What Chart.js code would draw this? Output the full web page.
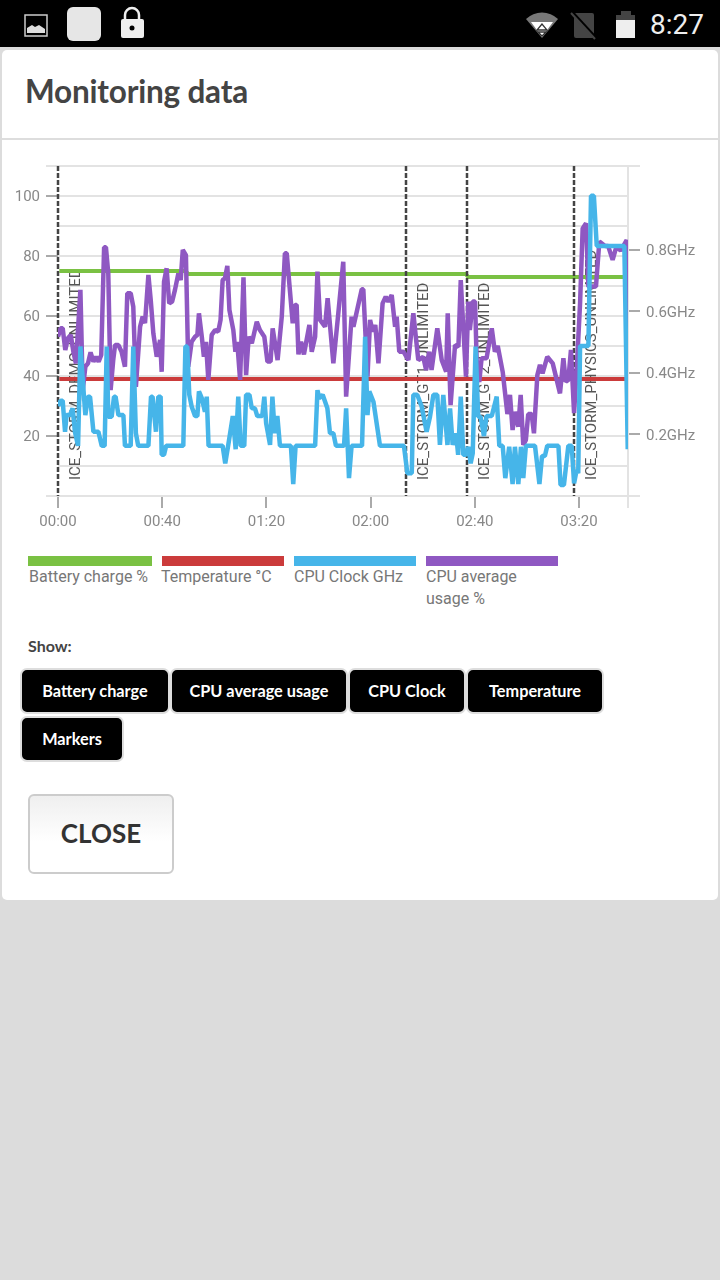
<!DOCTYPE html>
<html><head><meta charset="utf-8">
<script src="https://cdn.jsdelivr.net/npm/chart.js@4"></script>
<style>
html,body{margin:0;padding:0;width:720px;height:1280px;overflow:hidden;background:#dcdcdc}
.a{position:absolute}
#bar{left:0;top:0;width:720px;height:47px;background:#000}
#card{left:2px;top:50px;width:716px;height:850px;background:#fff;border-radius:5px}
#title{left:25px;top:72px;font:700 31.5px/38px Lato;color:#444;letter-spacing:-.2px}
#div{left:2px;top:138px;width:716px;height:2px;background:#ddd}
#clock{left:650px;top:8px;font:400 28px/34px Roboto;color:#eee}
.sw{top:556px;height:10px}
.lg{top:566px;font:400 16px/22px Roboto;color:#777}
#show{left:28px;top:636px;font:700 16px/20px Lato;color:#444}
.btn{box-sizing:border-box;background:#000;color:#fff;border:2px solid #ddd;border-radius:7px;font:700 16.3px/41px Lato;text-align:center;height:46px}
#close{left:28px;top:794px;width:146px;height:80px;box-sizing:border-box;border:2px solid #ccc;border-radius:6px;background:linear-gradient(#efefef,#fff 60%);font:700 26px/74px Lato;color:#333;text-align:center}
#wrap{left:0;top:150px;width:720px;height:390px}
</style></head><body>
<div class="a" id="bar"></div>
<svg class="a" style="left:0;top:0" width="330" height="47">
<rect x="25" y="15" width="22" height="21" fill="none" stroke="#ccc" stroke-width="1.5"/>
<path d="M27 33V28l5-3 3 2 4-2 6 4v4z" fill="#ddd"/>
<rect x="67" y="7" width="34" height="34" rx="6" fill="#e6e6e6"/>
<path d="M125 19v-4a7 7 0 0 1 14 0v4" fill="none" stroke="#eee" stroke-width="2.5"/>
<rect x="121" y="19" width="23" height="19" rx="2" fill="#eee"/>
<circle cx="132" cy="28" r="2.5" fill="#000"/>
</svg>
<svg class="a" style="left:520px;top:0" width="125" height="47">
<path d="M6 19a23 23 0 0 1 32 0L22 38z" fill="#777"/>
<path d="M11 22h22L22 37z" fill="#fff"/>
<path d="M22 24l-5 6h10z M18 32h8l-4 4z" fill="none" stroke="#333" stroke-width="1.3"/>
<rect x="54" y="13" width="20" height="25" rx="2" fill="#444"/>
<path d="M53 13l24 26" stroke="#000" stroke-width="3"/><path d="M51 13l24 26" stroke="#444" stroke-width="2"/>
<rect x="101" y="11" width="10" height="4" fill="#444"/>
<rect x="96" y="15" width="19" height="6" fill="#444"/>
<rect x="96" y="20" width="19" height="18" fill="#eee"/>
</svg>
<div class="a" id="clock">8:27</div>
<div class="a" id="card"></div>
<div class="a" id="title">Monitoring data</div>
<div class="a" id="div"></div>
<div class="a" id="wrap"><canvas id="c" width="720" height="390"></canvas></div>
<div class="a sw" style="left:28px;width:124px;background:#7ac143"></div>
<div class="a sw" style="left:162px;width:122px;background:#cb3b3b"></div>
<div class="a sw" style="left:294px;width:122px;background:#46b5e9"></div>
<div class="a sw" style="left:426px;width:132px;background:#8f58c2"></div>
<div class="a lg" style="left:29px">Battery charge %</div>
<div class="a lg" style="left:161px">Temperature °C</div>
<div class="a lg" style="left:294px">CPU Clock GHz</div>
<div class="a lg" style="left:426px;width:120px">CPU average<br>usage %</div>
<div class="a" id="show">Show:</div>
<div class="a btn" style="left:20px;top:668px;width:150px">Battery charge</div>
<div class="a btn" style="left:170px;top:668px;width:178px">CPU average usage</div>
<div class="a btn" style="left:348px;top:668px;width:118px">CPU Clock</div>
<div class="a btn" style="left:466px;top:668px;width:138px">Temperature</div>
<div class="a btn" style="left:20px;top:716px;width:104px">Markers</div>
<div class="a" id="close">CLOSE</div>
<script>
const xTickMinutes=[0,40,80,120,160,200];
const xMax=218.8;
const usageLeftTicks=[20,40,60,80,100];
const clockTicks=[0.2,0.4,0.6,0.8];
const markerMinutes=[0,133.6,157,198];
const markerNames=["ICE_STORM_DEMO_UNLIMITED","ICE_STORM_GT1_UNLIMITED","ICE_STORM_GT2_UNLIMITED","ICE_STORM_PHYSICS_UNLIMITED"];
const batteryMinutes=[0.5,49,50,156.5,157.5,218];
const batteryCharge=[75,75,74,74,73,73];
const tempMinutes=[0.5,218];
const temperature=[39,39];
const usageMinutes=[0,1,1.8,2.8,3.8,4.9,5.9,6.9,8.6,9.5,10.5,11.5,12.5,13.6,14.6,15.6,16.6,17.7,18.4,19.3,20.2,21.2,21.9,23.2,24.4,25.7,26.6,27.9,28.9,29.9,31.5,32.5,33.4,34.7,35.6,36.6,37.9,39.2,39.8,40.7,41.7,42.7,43.8,44.9,46.2,47.1,47.9,49.1,50,51.3,52.6,53.5,54.1,55.2,56,56.8,57.7,59,60.3,61.5,62.4,63.2,64.1,65,65.8,67.3,68.1,68.8,69.9,71.2,72.2,73.2,74.4,76.3,77.5,79.2,80.4,81.6,82.4,84.3,85.9,87.1,87.8,90.1,91,91.6,92.3,93.3,94.4,96.5,97.4,98.7,99.6,100.6,102.5,103.5,105.7,107.6,109.5,110.6,112.7,113.4,116.6,117.2,118.8,119.8,120.8,121.8,123,124.6,125.8,126.8,128.1,129.4,130,131,132.6,134.5,136.4,138.3,140.2,141.3,142.5,143.4,145.6,147.3,149,149.6,150.7,152.4,153.7,154.6,156.6,157.5,158.1,159.2,160.1,160.7,161.7,162.6,164.5,166.5,167.7,168.8,170.7,172.5,173.5,174.5,175.4,176.7,177.6,178.6,179.6,180.5,181.8,182.7,184,185,186,187.8,189.9,192.7,194,194.9,195.9,196.9,198.1,199.3,200.4,201.4,202.7,203.6,206.5,207.8,210,211.2,212.9,214.4,216,218.3,218.6];
const cpuUsage=[53.1,55.9,55.9,48.7,52.6,53.7,48.1,44.2,68.7,35.3,43.1,44.2,47.9,44.8,46.4,44.8,47,82.9,82.9,74.2,35.3,45.3,50.3,50.3,48.1,43.1,67.6,67.6,63.1,36.4,56.4,59.8,57.6,73.7,65.3,54.2,46.4,52,41.4,71.4,75.9,64.2,64.8,68.7,74.2,72,82,80.3,43.1,51.4,53.1,53.7,60.9,53.1,46.4,51.4,38.7,53.7,55.3,54.8,58.7,72,72.6,76.7,62,55.3,48.1,51.4,38.7,72.9,40.3,53.1,50.9,58.1,55.3,53.1,44.8,44.8,55.9,45.3,59.8,80.9,80.9,57.6,63.7,63.7,47.2,51.4,47.2,57,48.1,53.1,74.8,58.7,56.4,65.9,44.2,60.9,78.1,33.1,59.8,56.4,68.9,68.9,39.8,58.7,54.8,57,44.2,64.2,66.4,64.8,67,56.4,59.8,48.1,48.1,45.3,60.9,45.3,46.4,42,48.1,42,55.9,45.3,41.4,60.9,30.3,50.3,49.8,72,39.8,64.8,55.3,64.8,64.8,45.3,38,45.9,45.9,55.9,48.1,50,41.4,27.3,33.7,22,28.1,23.1,33.7,17,18.7,27.3,27.3,20.9,40.3,43.7,40.9,46.4,44.2,34.2,45.9,38.1,38.7,48.7,27.6,45.3,64.2,89.2,90.9,69.8,69.8,84.8,83.3,83.3,78.7,83.3,81.8,85.3,45.3];
const clockMinutes=[0,1,1.8,2.7,3.3,4.6,5.6,6.5,7.7,8.6,9.5,10.5,11.5,12.3,13.6,15.5,16.8,17.9,18.7,19.3,20.6,21.5,22.1,23.2,25.1,25.7,27.9,28.9,29.9,30.8,34.7,35.7,36.3,37.6,38.5,39.4,39.8,40.7,41.5,48.1,48.9,49.6,50.4,51.3,52.6,53.5,54.1,55.2,56.4,57.1,57.8,63.2,64.2,65.3,67.1,68.2,69.2,70.1,71.5,72.2,73.5,74.4,75.6,76.5,78.4,79.2,79.9,81.4,82.3,83.2,84.2,85.2,89.4,90.3,91.2,98.7,99.6,100.3,101.6,103.4,104.4,105.7,106.7,109.8,110.6,111.7,112.7,116.7,117.9,118.8,119.5,121.1,123.6,132.8,134.1,135.8,136.4,137.9,139.6,141.5,142.8,144.1,145.6,146.6,147.9,149.5,150.5,151.5,152.8,153.6,154.6,155.6,156.6,157.5,158.4,159.2,160.3,161.3,162.2,163.5,164.5,166.5,168.4,169.4,170.7,171.7,173.2,174.5,175.4,176.7,177.7,178.6,179.6,183.1,184.8,185.8,186.9,187.8,192.1,192.9,194.2,195.9,197.2,198.1,199.1,199.7,200.4,203.6,204.6,205.7,206.8,217.4,218.7];
const cpuClock=[.293,.31,.31,.209,.263,.263,.285,.209,.163,.486,.378,.263,.323,.323,.209,.209,.163,.163,.486,.258,.258,.323,.323,.263,.263,.163,.163,.486,.204,.163,.163,.323,.323,.209,.323,.323,.134,.134,.163,.163,.486,.486,.329,.291,.26,.26,.34,.318,.274,.323,.163,.163,.106,.163,.26,.152,.323,.163,.163,.329,.329,.285,.285,.26,.26,.323,.236,.166,.323,.204,.26,.163,.163,.039,.163,.163,.344,.318,.329,.285,.204,.204,.163,.163,.285,.058,.163,.163,.518,.263,.34,.306,.163,.163,.074,.074,.329,.329,.291,.209,.258,.329,.329,.166,.329,.166,.285,.166,.204,.134,.323,.134,.134,.16,.106,.139,.486,.258,.258,.195,.26,.26,.323,.163,.163,.058,.16,.039,.16,.039,.16,.058,.163,.163,.039,.13,.13,.163,.163,.036,.036,.163,.163,.041,.085,.074,.488,.488,.976,.976,.813,.813,.152];

const zip=(a,b)=>a.map((x,i)=>({x,y:b[i]}));
const fmt=m=>String(Math.floor(m/60)).padStart(2,'0')+':'+String(m%60).padStart(2,'0');
const GRID='#e3e3e3',TICK='#aaaaaa',LABEL='#888888';
const markers={id:'markers',
 beforeDatasetsDraw(ch){
  const {ctx,scales:{x,y}}=ch;
  markerMinutes.forEach((m,i)=>{
    const px=Math.round(x.getPixelForValue(m));
    ctx.save();
    ctx.translate(px+18,y.bottom-16);ctx.rotate(-Math.PI/2);
    ctx.fillStyle='#555';ctx.font='400 15px Roboto';ctx.textBaseline='middle';ctx.textAlign='left';
    ctx.fillText(markerNames[i],0,0);
    ctx.restore();
  });
 },
 afterDatasetDraw(ch,args){
  if(args.index!==3)return;
  const {ctx,scales:{x,y}}=ch;
  markerMinutes.forEach(m=>{
    const px=Math.round(x.getPixelForValue(m));
    ctx.save();
    ctx.strokeStyle='#444';ctx.lineWidth=2.5;ctx.setLineDash([5,2]);
    ctx.beginPath();ctx.moveTo(px,y.top);ctx.lineTo(px,y.bottom);ctx.stroke();
    ctx.restore();
  });
 }};
const line=(label,data,color,axis,w)=>({label,data,borderColor:color,backgroundColor:color,borderWidth:w,borderJoinStyle:'bevel',pointRadius:0,tension:0,yAxisID:axis,fill:false});
new Chart(document.getElementById('c'),{
  type:'line',
  data:{datasets:[
    line('CPU Clock GHz',zip(clockMinutes,cpuClock),'#46b5e9','y1',4.5),
    line('CPU average usage %',zip(usageMinutes,cpuUsage),'#8f58c2','y',4.5),
    line('Temperature °C',zip(tempMinutes,temperature),'#cb3b3b','y',4),
    line('Battery charge %',zip(batteryMinutes,batteryCharge),'#7ac143','y',4)
  ]},
  plugins:[markers],
  options:{
    responsive:false,animation:false,
    layout:{padding:{top:16,left:0,right:0,bottom:0}},
    plugins:{legend:{display:false},tooltip:{enabled:false}},
    scales:{
      x:{type:'linear',min:0,max:xMax,
        afterBuildTicks(s){s.ticks=xTickMinutes.concat([xMax]).map(v=>({value:v}));},
        afterFit(s){s.height=44;},
        border:{display:false},
        grid:{drawOnChartArea:false,drawTicks:true,tickLength:12,lineWidth:2,tickColor:c=>c.tick&&c.tick.value===xMax?GRID:TICK},
        ticks:{autoSkip:false,maxRotation:0,padding:5,color:LABEL,font:{family:'Roboto',size:15},callback:v=>xTickMinutes.includes(v)?fmt(v):''}
      },
      y:{min:0,max:110,position:'left',
        afterFit(s){s.width=58;},
        border:{display:false},
        grid:{color:GRID,lineWidth:2,tickLength:12,tickColor:c=>{const v=c.tick&&c.tick.value;return usageLeftTicks.includes(v)?TICK:(v===0||v===110?GRID:'rgba(0,0,0,0)');}},
        ticks:{stepSize:10,padding:6,color:LABEL,font:{family:'Roboto',size:15,lineHeight:'2px'},callback:v=>usageLeftTicks.includes(v)?['',String(v)]:''}
      },
      y1:{min:0,max:1.073,position:'right',
        afterBuildTicks(s){s.ticks=[0].concat(clockTicks,[1.073]).map(v=>({value:v}));},
        afterFit(s){s.width=92;},
        border:{display:true,color:GRID,width:2},
        grid:{drawOnChartArea:false,lineWidth:2,tickLength:12,tickColor:c=>clockTicks.includes(c.tick&&c.tick.value)?TICK:GRID},
        ticks:{autoSkip:false,padding:6,color:LABEL,font:{family:'Roboto',size:15,lineHeight:'3px'},callback:v=>clockTicks.includes(v)?['',v.toFixed(1)+'GHz']:''}
      }
    }
  }
});
</script>
</body></html>
